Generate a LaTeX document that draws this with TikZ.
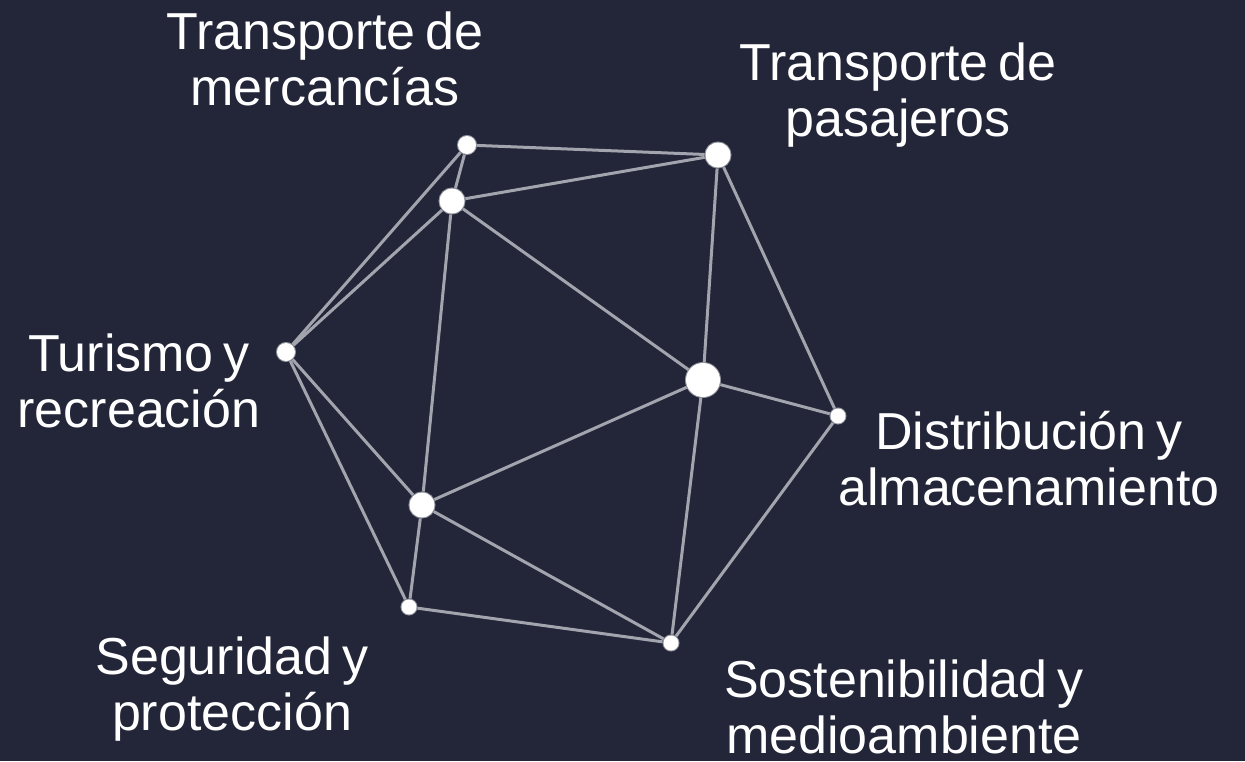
\documentclass[tikz,border=0pt]{standalone}
\usepackage{fontspec}
\setmainfont{Liberation Sans}[WordSpace=0.7]
\definecolor{fondo}{HTML}{232639}
\definecolor{gris}{HTML}{A3A5AE}
\tikzset{
  punto/.style={circle, fill=white, inner sep=0pt, minimum size=#1,
    draw=white, draw opacity=.5, line width=2pt},
  enlace/.style={draw=gris, line width=3pt},
  etiqueta/.style={text=white, align=center, anchor=base,
    font=\fontsize{52}{56}\selectfont},
}

\begin{document}
\begin{tikzpicture}[x=1pt,y=-1pt]
        \fill[fondo] (0,0) rectangle (1245,761);
        \useasboundingbox (0,0) rectangle (1245,761);
        % puntos
        \node[punto=18pt] (A) at (467,145) {};
        \node[punto=25pt] (B) at (718,155) {};
        \node[punto=25pt] (C) at (452,201) {};
        \node[punto=18pt] (D) at (286,352) {};
        \node[punto=34pt] (E) at (703,380) {};
        \node[punto=15pt] (F) at (838,416) {};
        \node[punto=25pt] (G) at (422,505) {};
        \node[punto=15pt] (H) at (409,607) {};
        \node[punto=15pt] (I) at (671,643) {};
        % enlaces
        \draw[enlace] (A) -- (B);
        \draw[enlace] (A) -- (C);
        \draw[enlace] (A) -- (D);
        \draw[enlace] (C) -- (B);
        \draw[enlace] (C) -- (D);
        \draw[enlace] (C) -- (E);
        \draw[enlace] (C) -- (G);
        \draw[enlace] (B) -- (E);
        \draw[enlace] (B) -- (F);
        \draw[enlace] (E) -- (F);
        \draw[enlace] (E) -- (G);
        \draw[enlace] (E) -- (I);
        \draw[enlace] (F) -- (I);
        \draw[enlace] (D) -- (G);
        \draw[enlace] (D) -- (H);
        \draw[enlace] (G) -- (H);
        \draw[enlace] (G) -- (I);
        \draw[enlace] (H) -- (I);
        % etiquetas (base = ultima linea)
        \node[etiqueta] (merc) at (325,105) {Transporte de\\mercancías};
        \node[etiqueta] (pas) at (898,136) {Transporte de\\pasajeros};
        \node[etiqueta] (tur) at (139,427) {Turismo y\\recreación};
        \node[etiqueta] (dist) at (1029,505) {Distribución y\\almacenamiento};
        \node[etiqueta] (seg) at (232,730) {Seguridad y\\protección};
        \node[etiqueta] (sost) at (904,753) {Sostenibilidad y\\medioambiente};
\end{tikzpicture}
\end{document}
